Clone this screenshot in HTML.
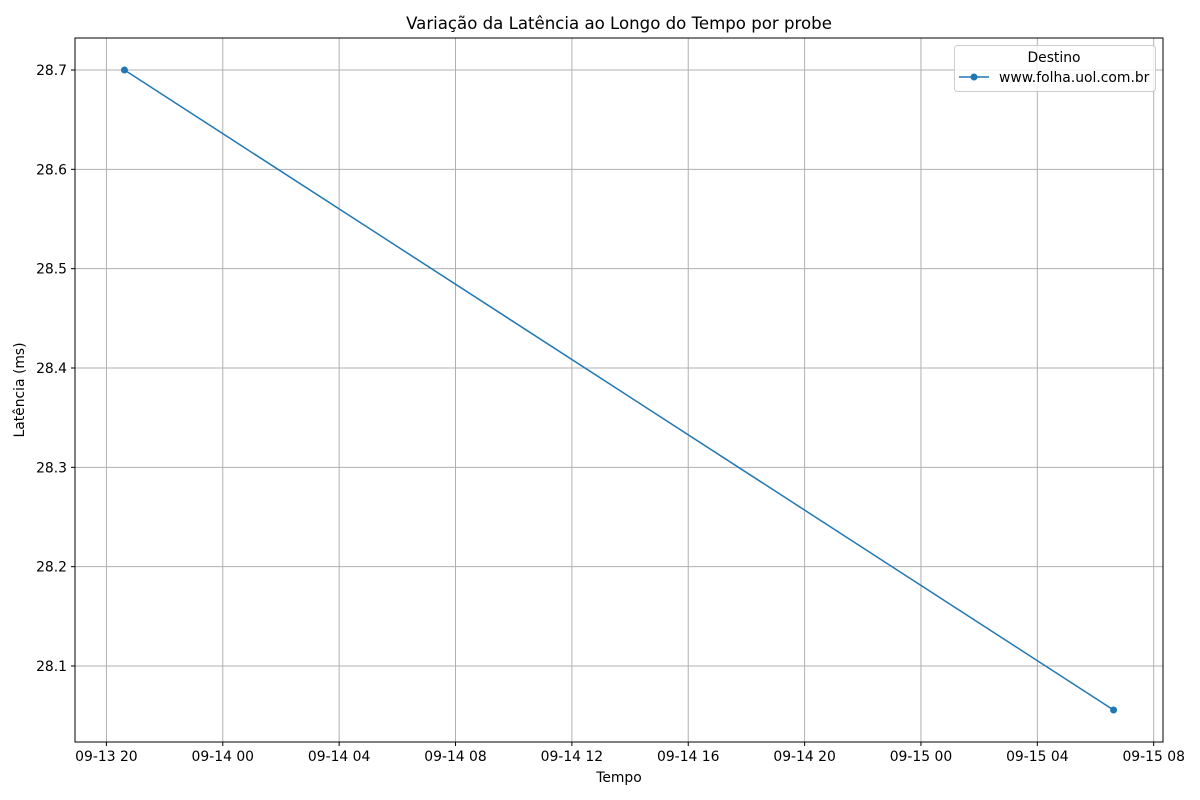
<!DOCTYPE html>
<html><head><meta charset="utf-8"><style>
body{margin:0;background:#fff}
svg{display:block;font-family:"DejaVu Sans","Liberation Sans",sans-serif}
</style></head><body>
<svg id="chart" width="1200" height="800">
<text x="619" y="29" text-anchor="middle" font-size="16.6">Variação da Latência ao Longo do Tempo por probe</text>
<g id="grid"></g><g id="ticks"></g><g id="series"></g>
<rect x="75" y="38" width="1088" height="704" fill="none" stroke="#000" stroke-width="1"/>
<text x="619" y="782" text-anchor="middle" font-size="13.9">Tempo</text>
<text transform="translate(24,390) rotate(-90)" text-anchor="middle" font-size="13.9">Latência (ms)</text>
<g>
<rect x="954.5" y="45.5" width="201" height="46" rx="3" fill="#fff" fill-opacity="0.8" stroke="#ccc"/>
<text x="1054" y="62" text-anchor="middle" font-size="13.9">Destino</text>
<line x1="959" y1="77" x2="989" y2="77" stroke="#1f77b4" stroke-width="1.5"/>
<circle cx="974" cy="77" r="3.5" fill="#1f77b4"/>
<text x="999" y="82" font-size="13.9">www.folha.uol.com.br</text>
</g>
</svg>
<script>
// hours since 09-13 00:00
const times=[20.62,54.62];
const latencies=[28.7,28.0557];
const xTickHours=[20,24,28,32,36,40,44,48,52,56];
const xTickLabels=["09-13 20","09-14 00","09-14 04","09-14 08","09-14 12","09-14 16","09-14 20","09-15 00","09-15 04","09-15 08"];
const yTicks=[28.1,28.2,28.3,28.4,28.5,28.6,28.7];
const L=75,R=1163,T=38,B=742,NS="http://www.w3.org/2000/svg";
const tmin=Math.min(...times),tmax=Math.max(...times),tp=(tmax-tmin)*0.05;
const vmin=Math.min(...latencies),vmax=Math.max(...latencies),vp=(vmax-vmin)*0.05;
const xs=t=>L+(t-(tmin-tp))/((tmax+tp)-(tmin-tp))*(R-L);
const ys=v=>B-(v-(vmin-vp))/((vmax+vp)-(vmin-vp))*(B-T);
function el(tag,a,p){const e=document.createElementNS(NS,tag);for(const k in a)e.setAttribute(k,a[k]);p.appendChild(e);return e;}
const g=document.getElementById('grid'),tk=document.getElementById('ticks'),s=document.getElementById('series');
xTickHours.forEach((h,i)=>{const x=xs(h);
 const gl=el('line',{x1:x,x2:x,y1:T,y2:B,stroke:'#b0b0b0','stroke-width':1},g);
 
 
 el('line',{x1:x,x2:x,y1:B,y2:B+4,stroke:'#000'},tk);
 const t=el('text',{x:x,y:B+19,'text-anchor':'middle','font-size':13.9},tk);t.textContent=xTickLabels[i];
 
 
});
yTicks.forEach(v=>{const y=ys(v);
 const gl=el('line',{x1:L,x2:R,y1:y,y2:y,stroke:'#b0b0b0','stroke-width':1},g);
 
 
 el('line',{x1:L-4,x2:L,y1:y,y2:y,stroke:'#000'},tk);
 const t=el('text',{x:L-8,y:y+5,'text-anchor':'end','font-size':13.9},tk);t.textContent=v.toFixed(1);
 
 
});
const pl=el('polyline',{points:times.map((t,i)=>xs(t)+','+ys(latencies[i])).join(' '),fill:'none',stroke:'#1f77b4','stroke-width':1.5},s);


times.forEach((t,i)=>{const c=el('circle',{cx:xs(t),cy:ys(latencies[i]),r:3.5,fill:'#1f77b4'},s);
 
 
});
</script>
</body></html>
